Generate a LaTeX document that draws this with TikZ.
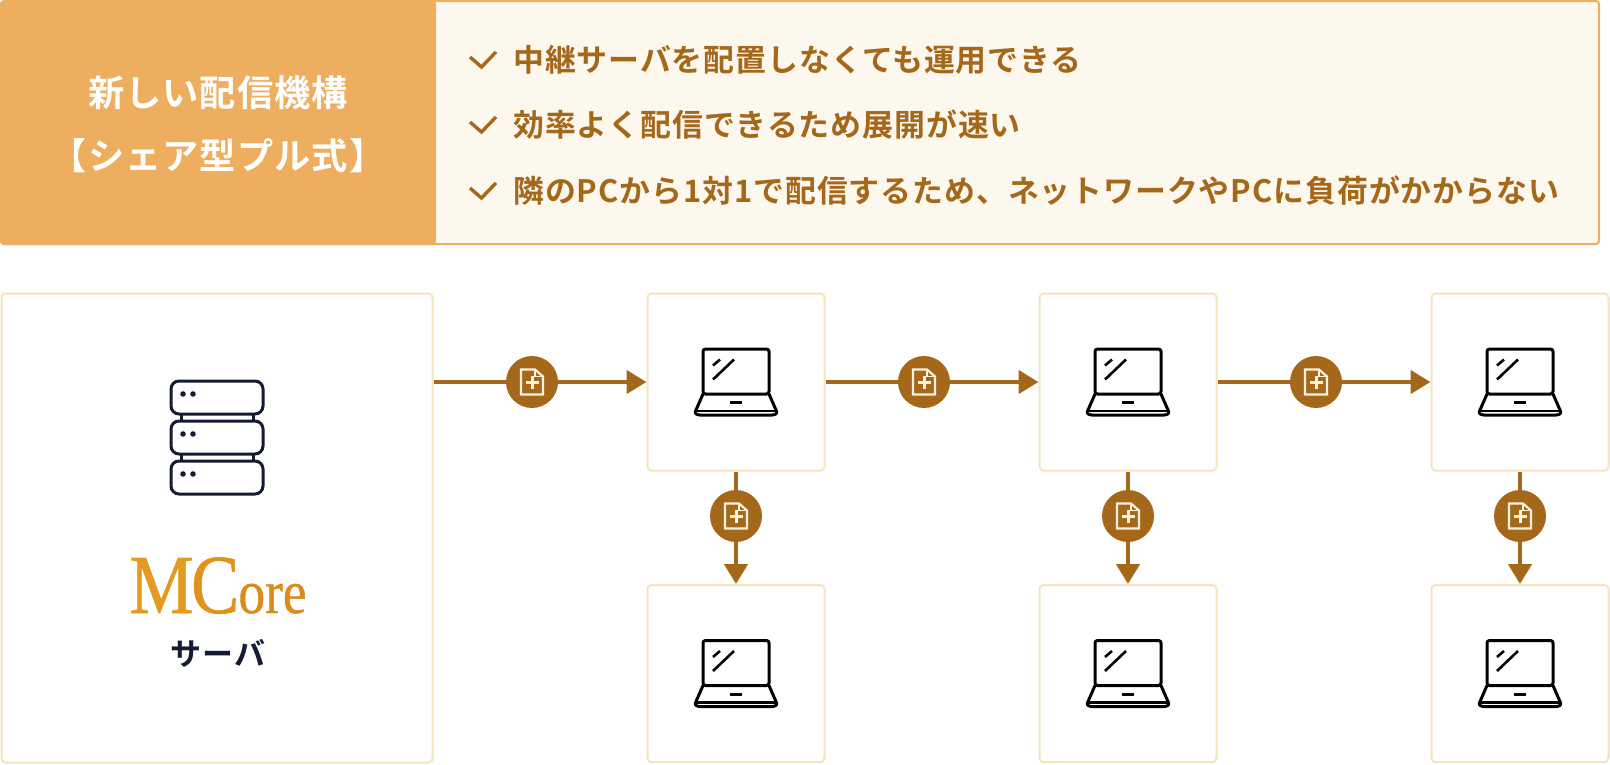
\documentclass[tikz,border=0pt]{standalone}
\usepackage{fontspec}
\usetikzlibrary{arrows.meta}
\setmainfont{Liberation Serif}
\newfontfamily\jpb[LetterSpace=3]{Noto Sans CJK JP Bold}
\newfontfamily\logofont[FakeBold=0.7]{Liberation Serif}
\definecolor{brownc}{HTML}{A5681B}
\definecolor{edgec}{HTML}{F3E3BF}
\definecolor{headc}{HTML}{EDAE5F}
\definecolor{panelc}{HTML}{FDF8EE}
\definecolor{navyc}{HTML}{141B33}
\definecolor{creamc}{HTML}{FBF1DF}
\tikzset{
  x=1pt,y=-1pt,
  cardbox/.style={draw=edgec,line width=2pt,fill=white,rounded corners=4pt,inner sep=0pt,outer sep=1pt,minimum width=177pt,minimum height=177pt},
  bigbox/.style={cardbox,minimum width=431pt,minimum height=469pt},
  flow/.style={draw=brownc,line width=4.5pt,-{Triangle[length=20pt,width=23pt]},shorten >=0pt},
  badge/.style={circle,fill=brownc,inner sep=0pt,minimum size=52pt},
  bullet/.style={anchor=west,inner sep=0pt,text=brownc,font=\jpb\fontsize{30.9}{37}\selectfont},
  tick/.style={draw=brownc,line width=3.4pt,line join=miter},
  laptop/.pic={
    \draw[black,line width=3pt,rounded corners=2.5pt] (-33,12)--(-33,-33)--(33,-33)--(33,12)--cycle;
    \draw[black,line width=3pt,line join=round] (-33,12)--(-40,28) .. controls (-42,31) and (-40,33) .. (-36,33) -- (36,33) .. controls (40,33) and (42,31) .. (40,28) -- (33,12);
    \draw[black,line width=2.2pt] (-40,29)--(40,29);
    \draw[black,line width=3pt] (-6,20.5)--(6,20.5);
    \draw[black,line width=2.6pt] (-23,-2.5)--(-2,-22.5) (-23,-16.5)--(-16,-22.5);
  },
  docicon/.pic={
    \draw[creamc,line width=2.2pt,line join=miter] (-11,-12.5)--(3,-12.5)--(11,-5.5)--(11,12.5)--(-11,12.5)--cycle;
    \draw[creamc,line width=1.2pt] (3,-12.5)--(3,-5.5)--(11,-5.5);
    \draw[creamc,line width=3pt] (-6.5,0.5)--(6.5,0.5) (0,-6)--(0,7);
  },
  rack/.style={draw=navyc,line width=3pt,rounded corners=8pt},
}
\begin{document}
\begin{tikzpicture}
\useasboundingbox (0,0) rectangle (1610,764);
% header
\node[draw=headc,line width=2pt,fill=panelc,rounded corners=3pt,inner sep=0pt,minimum width=1598pt,minimum height=243pt] (panel) at (800,122.5) {};
\node[fill=headc,rounded corners=4pt,inner sep=0pt,minimum width=436pt,minimum height=245pt] (head) at (218,122.5) {};
\node[inner sep=0pt,text=white,font=\jpb\fontsize{36.2}{44}\selectfont] (t1) at (218,92.5) {新しい配信機構};
\node[inner sep=0pt,text=white,font=\jpb\fontsize{36.2}{44}\selectfont] (t2) at (218,156) {【シェア型プル式】};
\foreach \n/\yy in {a/60,b/125,c/191}{
  \draw[tick] (470,\yy-3) -- (481.5,\yy+7) -- (496,\yy-8);
}
\node[bullet] (l1) at (513,60) {中継サーバを配置しなくても運用できる};
\node[bullet] (l2) at (513,125) {効率よく配信できるため展開が速い};
\node[bullet] (l3) at (513,191) {隣のPCから1対1で配信するため、ネットワークやPCに負荷がかからない};
% boxes
\node[bigbox] (srv) at (217,528) {};
\foreach \n/\xx in {1/736,2/1128,3/1520}{
  \node[cardbox] (up\n) at (\xx,382) {};
  \node[cardbox] (dn\n) at (\xx,673.5) {};
  \pic at (up\n.center) {laptop};
  \pic at (dn\n.center) {laptop};
}
% connectors
\draw[flow] (srv.east |- up1.west) -- (up1.west);
\draw[flow] (up1.east) -- (up2.west);
\draw[flow] (up2.east) -- (up3.west);
\draw[flow] (up1.south) -- (dn1.north);
\draw[flow] (up2.south) -- (dn2.north);
\draw[flow] (up3.south) -- (dn3.north);
% badges
\foreach \n/\xx/\yy in {h1/532/382,h2/924/382,h3/1316/382,v1/736/516,v2/1128/516,v3/1520/516}{
  \node[badge] (\n) at (\xx,\yy) {};
  \pic at (\n.center) {docicon};
}
% server icon
\draw[navyc,line width=3pt] (181,413)--(181,421) (253,413)--(253,421) (181,454)--(181,461) (253,454)--(253,461);
\foreach \ya/\yb/\d in {381/414/394,421/454/434,461/494/474}{
  \draw[rack,fill=white] (171,\ya) rectangle (263,\yb);
  \fill[navyc] (183,\d) circle (2.8) (193,\d) circle (2.8);
}
\node[inner sep=0pt,anchor=base,xscale=0.86] (logo) at (218,613) {\logofont\fontsize{84}{84}\selectfont\textcolor[HTML]{E39A20}{M}\kern-3pt\textcolor[HTML]{E0921E}{C}\fontsize{62}{62}\selectfont\kern-1pt\textcolor[HTML]{DC8A1C}{ore}};
\node[inner sep=0pt,text=navyc,font=\jpb\fontsize{31}{36}\selectfont] (srvlabel) at (218,653) {サーバ};
\end{tikzpicture}
\end{document}
